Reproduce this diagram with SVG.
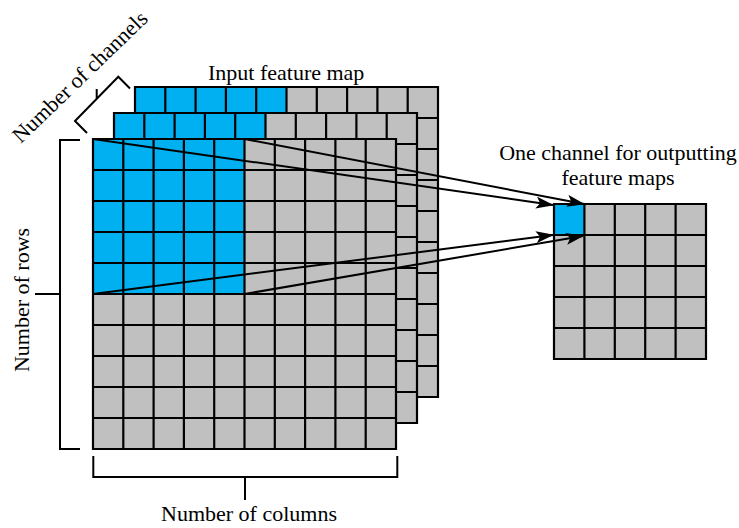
<svg xmlns="http://www.w3.org/2000/svg" width="739" height="528" viewBox="0 0 739 528">
  <style>
    .bg { fill: #c0c0c0; }
    .hi { fill: #00b0f0; }
    .grid { fill: none; stroke: #000; stroke-width: 2.2; stroke-linecap: square; }
    .br { fill: none; stroke: #000; stroke-width: 2; }
    .arrow { fill: none; stroke: #000; stroke-width: 2; marker-end: url(#head); }
    text { font-family: "Liberation Serif", "Times New Roman", serif; font-size: 22px; fill: #000; }
  </style>
  <defs>
    <marker id="head" viewBox="0 0 18 12" refX="17" refY="6" markerWidth="18" markerHeight="12" markerUnits="userSpaceOnUse" orient="auto">
      <path d="M0,0 L18,6 L0,12 L4,6 z" fill="#000"/>
    </marker>
  </defs>
  <rect width="739" height="528" fill="#fff"/>

  <!-- back channel of the input map -->
  <g id="channel-3">
    <rect class="bg" x="135" y="87" width="303" height="310"/>
    <rect class="hi" x="135" y="87" width="151.5" height="155"/>
    <path class="grid" d="M135,87H438V397H135Z
      M165.3,87V397 M195.6,87V397 M225.9,87V397 M256.2,87V397 M286.5,87V397 M316.8,87V397 M347.1,87V397 M377.4,87V397 M407.7,87V397
      M135,118H438 M135,149H438 M135,180H438 M135,211H438 M135,242H438 M135,273H438 M135,304H438 M135,335H438 M135,366H438"/>
  </g>

  <!-- middle channel -->
  <g id="channel-2">
    <rect class="bg" x="114" y="113" width="303" height="310"/>
    <rect class="hi" x="114" y="113" width="151.5" height="155"/>
    <path class="grid" d="M114,113H417V423H114Z
      M144.3,113V423 M174.6,113V423 M204.9,113V423 M235.2,113V423 M265.5,113V423 M295.8,113V423 M326.1,113V423 M356.4,113V423 M386.7,113V423
      M114,144H417 M114,175H417 M114,206H417 M114,237H417 M114,268H417 M114,299H417 M114,330H417 M114,361H417 M114,392H417"/>
  </g>

  <!-- front channel -->
  <g id="channel-1">
    <rect class="bg" x="93" y="139" width="303" height="310"/>
    <rect class="hi" x="93" y="139" width="151.5" height="155"/>
    <path class="grid" d="M93,139H396V449H93Z
      M123.3,139V449 M153.6,139V449 M183.9,139V449 M214.2,139V449 M244.5,139V449 M274.8,139V449 M305.1,139V449 M335.4,139V449 M365.7,139V449
      M93,170H396 M93,201H396 M93,232H396 M93,263H396 M93,294H396 M93,325H396 M93,356H396 M93,387H396 M93,418H396"/>
  </g>

  <!-- output channel -->
  <g id="output-map">
    <rect class="bg" x="554" y="204" width="152" height="155"/>
    <rect class="hi" x="554" y="204" width="30.4" height="31"/>
    <path class="grid" d="M554,204H706V359H554Z
      M584.4,204V359 M614.8,204V359 M645.2,204V359 M675.6,204V359
      M554,235H706 M554,266H706 M554,297H706 M554,328H706"/>
  </g>

  <!-- receptive field corners mapped to the output cell -->
  <g id="connectors">
    <line class="arrow" x1="93" y1="139" x2="553" y2="205"/>
    <line class="arrow" x1="244.5" y1="139" x2="584" y2="204"/>
    <line class="arrow" x1="93" y1="294" x2="553" y2="235"/>
    <line class="arrow" x1="244.5" y1="294" x2="583" y2="236"/>
  </g>

  <!-- dimension brackets -->
  <g id="bracket-rows">
    <path class="br" d="M80,140H60V449H80 M60,294H35"/>
  </g>
  <g id="bracket-columns">
    <path class="br" d="M93.3,456V477H397.3V456 M245,477V500"/>
  </g>
  <g id="bracket-channels">
    <path class="br" d="M87,133L75,121L118.3,76.7L130,88.5 M96.7,98.5V89"/>
  </g>

  <g id="labels">
    <text x="208" y="80">Input feature map</text>
    <text x="618" y="160" text-anchor="middle">One channel for outputting</text>
    <text x="618" y="185" text-anchor="middle">feature maps</text>
    <text x="249" y="521" text-anchor="middle">Number of columns</text>
    <text transform="translate(29,300) rotate(-90)" text-anchor="middle">Number of rows</text>
    <text transform="translate(85,82) rotate(-44)" text-anchor="middle">Number of channels</text>
  </g>
</svg>
